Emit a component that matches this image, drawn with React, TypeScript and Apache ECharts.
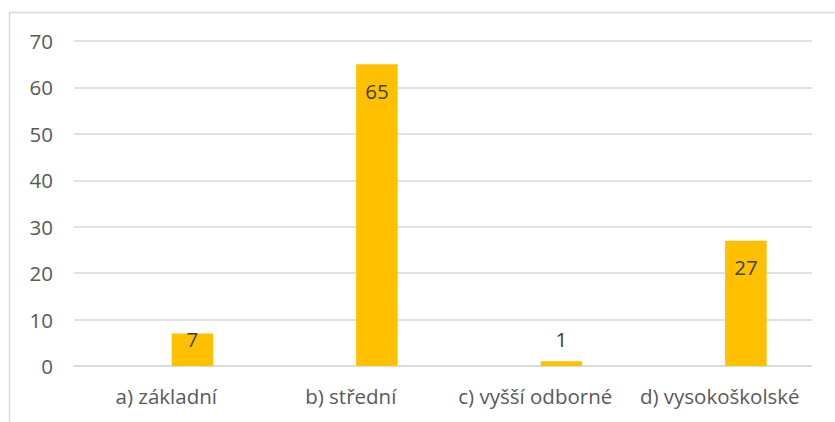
import React, { useEffect, useRef } from "react";
import * as echarts from "echarts";

const categories = ["a) základní", "b) střední", "c) vyšší odborné", "d) vysokoškolské"];
const values = [7, 65, 1, 27];
const yTicks = { min: 0, max: 70, interval: 10 };

const FONT = "'Open Sans', 'Noto Sans', sans-serif";

export default function App() {
  const ref = useRef<HTMLDivElement>(null);
  useEffect(() => {
    if (!ref.current) return;
    const chart = echarts.init(ref.current, undefined, { renderer: "svg" });
    const data = values.map((v) => ({
      value: v,
      label: v >= 12
        ? { position: "insideTop", distance: 16 }
        : { position: "insideBottom", distance: 17 },
    }));
    chart.setOption({
      animation: false,
      backgroundColor: "#ffffff",
      grid: { left: 74, right: 23, top: 41, bottom: 56, containLabel: false },
      graphic: [
        {
          type: "rect",
          shape: { x: 9.5, y: 12.5, width: 840, height: 420 },
          style: { fill: "none", stroke: "#d9d9d9", lineWidth: 1.5 },
          silent: true,
          z: -1,
        },
      ],
      xAxis: {
        type: "category",
        data: categories,
        axisLine: { show: true, lineStyle: { color: "#d9d9d9", width: 1.5 } },
        axisTick: { show: false },
        axisLabel: { color: "#595959", fontSize: 20.5, fontFamily: FONT, margin: 19, interval: 0 },
        splitLine: { show: false },
      },
      yAxis: {
        type: "value",
        min: yTicks.min,
        max: yTicks.max,
        interval: yTicks.interval,
        axisLine: { show: false },
        axisTick: { show: false },
        axisLabel: { color: "#595959", fontSize: 20.5, fontFamily: FONT, margin: 21 },
        splitLine: { lineStyle: { color: "#d9d9d9", width: 1.5 } },
      },
      series: [
        {
          type: "bar",
          data: values.map(() => null),
          barWidth: 41.5,
          barGap: "26%",
        },
        {
          type: "bar",
          data,
          barWidth: 41.5,
          barGap: "26%",
          itemStyle: { color: "#ffc000" },
          label: {
            show: true,
            color: "#404040",
            fontSize: 20.5,
            fontFamily: FONT,
          },
        },
      ],
    });
    return () => chart.dispose();
  }, []);
  return (
    <div
      ref={ref}
      style={{ position: "absolute", left: 0, top: 0, width: 835, height: 422 }}
    />
  );
}
